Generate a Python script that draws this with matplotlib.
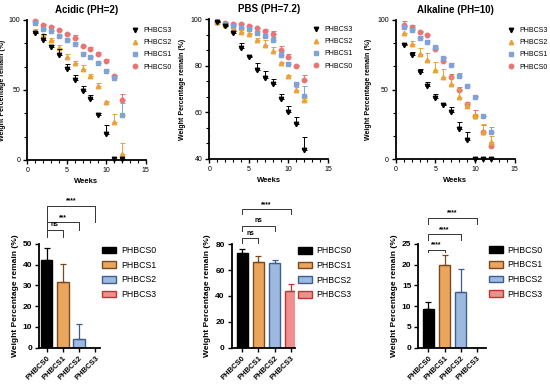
import numpy as np
import matplotlib.pyplot as plt
from matplotlib.ticker import MultipleLocator
from matplotlib.patches import Patch
from matplotlib.lines import Line2D

plt.rcParams["font.family"] = ["Liberation Sans", "DejaVu Sans"]

W, H = 550, 385

# -----------------------------
# Data
# -----------------------------
weeks = np.arange(1, 13)
groups = ["PHBCS0", "PHBCS1", "PHBCS2", "PHBCS3"]

acid_s3 = [90.4, 85.6, 81.0, 75.0, 64.7, 57.0, 49.2, 43.9, 32.4, 18.7, 0.5, 0.5]
acid_s3_err = [0.8, 4.5, 1.2, 4.6, 3.6, 3.6, 4.0, 2.6, 1.0, 6.5, 0.5, 0.5]
acid_s2 = [92.5, 89.0, 85.5, 80.0, 73.6, 69.3, 64.7, 59.7, 53.2, 41.5, 27.1, 4.0]
acid_s2_err = [1.0, 1.0, 1.5, 2.0, 2.0, 1.5, 3.0, 1.5, 2.0, 0.5, 6.0, 8.0]
acid_s1 = [97.6, 93.5, 91.8, 88.7, 85.6, 83.2, 76.0, 73.6, 69.0, 63.5, 58.8, 31.9]
acid_s1_err = [1.0, 1.0, 1.0, 0.8, 1.0, 1.2, 1.0, 1.0, 1.0, 1.5, 1.0, 9.0]
acid_s0 = [99.0, 96.6, 94.7, 93.0, 90.0, 87.0, 81.5, 79.1, 75.5, 70.7, 60.0, 43.2]
acid_s0_err = [0.8, 0.8, 0.8, 0.8, 1.0, 2.0, 0.8, 1.5, 1.5, 1.5, 0.8, 4.3]

pbs_s3 = [98.8, 96.8, 93.9, 87.6, 83.8, 78.3, 74.7, 72.3, 65.7, 60.3, 55.2, 44.0]
pbs_s3_err = [0.3, 0.5, 1.0, 2.0, 0.3, 2.9, 3.0, 1.9, 2.2, 2.2, 2.9, 5.3]
pbs_s2 = [98.5, 97.5, 95.1, 94.6, 93.6, 91.0, 88.9, 86.4, 81.2, 75.7, 69.7, 65.3]
pbs_s2_err = [0.3, 0.3, 0.5, 0.5, 0.5, 1.0, 1.9, 1.7, 0.5, 0.3, 1.2, 1.0]
pbs_s1 = [98.8, 98.0, 96.8, 96.1, 95.7, 93.9, 92.5, 91.0, 84.5, 80.6, 72.2, 67.2]
pbs_s1_err = [0.3, 0.3, 0.5, 0.5, 0.5, 0.8, 1.2, 1.2, 1.5, 1.0, 0.5, 4.0]
pbs_s0 = [98.8, 98.3, 98.0, 97.8, 97.1, 96.0, 95.0, 93.5, 86.7, 83.8, 79.8, 73.7]
pbs_s0_err = [0.3, 0.3, 0.3, 0.3, 0.3, 0.3, 0.5, 1.2, 1.8, 1.2, 0.3, 2.5]

alk_s3 = [82.1, 74.9, 62.4, 52.6, 43.8, 39.0, 34.2, 21.8, 13.9, 0.3, 0.3, 0.3]
alk_s3_err = [0.5, 2.0, 2.4, 3.1, 3.3, 0.5, 3.6, 5.3, 5.5, 0.0, 0.0, 0.0]
alk_s2 = [90.4, 82.5, 75.5, 71.5, 64.4, 59.3, 53.7, 45.0, 38.0, 31.2, 19.4, 12.7]
alk_s2_err = [0.5, 2.5, 4.5, 4.5, 5.5, 5.5, 5.5, 5.5, 2.5, 1.5, 6.0, 4.3]
alk_s1 = [94.7, 92.8, 87.3, 84.0, 80.4, 72.5, 67.7, 59.8, 52.9, 44.7, 30.9, 19.9]
alk_s1_err = [1.0, 1.0, 1.5, 1.5, 1.0, 1.0, 1.5, 2.0, 1.5, 0.5, 0.5, 3.0]
alk_s0 = [96.4, 94.7, 91.6, 89.2, 79.5, 70.5, 59.1, 49.8, 39.7, 31.3, 19.4, 9.8]
alk_s0_err = [2.9, 2.0, 0.5, 0.5, 0.5, 2.0, 2.0, 2.0, 1.5, 4.0, 5.0, 1.5]

acid_bar = [42.3, 31.5, 4.0, 0.0]
acid_bar_err = [5.6, 8.7, 7.4, 0.0]
pbs_bar = [73.0, 66.0, 65.3, 43.6]
pbs_bar_err = [3.0, 5.0, 2.8, 6.0]
alk_bar = [9.3, 20.0, 13.3, 0.0]
alk_bar_err = [1.8, 2.3, 5.5, 0.0]

# -----------------------------
# Styles
# -----------------------------
pt_color = {"PHBCS3": "black", "PHBCS2": "#E9A23B", "PHBCS1": "#7FA3D6", "PHBCS0": "#E87474"}
pt_marker = {"PHBCS3": "v", "PHBCS2": "^", "PHBCS1": "s", "PHBCS0": "o"}
bar_fill = ["black", "#EBA65E", "#9DB9DF", "#EE9090"]
bar_edge = ["black", "#7A4A1E", "#3B5F8E", "#C23434"]


def px_axes(l, r, t, b):
    return fig.add_axes([l / W, 1 - b / H, (r - l) / W, (b - t) / H])


def style_axes(ax):
    for s in ["top", "right"]:
        ax.spines[s].set_visible(False)
    for s in ["left", "bottom"]:
        ax.spines[s].set_linewidth(1.3)
    ax.tick_params(direction="out", width=1.0, length=3, labelsize=5, pad=2)
    ax.tick_params(which="minor", direction="out", width=0.8, length=2)


fig = plt.figure(figsize=(W / 100, H / 100), dpi=100)

# -----------------------------
# Top row: degradation curves
# -----------------------------
top_panels = [
    ("Acidic (PH=2)", (27.3, 145.7, 20, 160), (0, 100), 50,
     [acid_s3, acid_s2, acid_s1, acid_s0], [acid_s3_err, acid_s2_err, acid_s1_err, acid_s0_err], 0.88, -0.18),
    ("PBS (PH=7.2)", (209.3, 328, 19, 159), (40, 100), 20,
     [pbs_s3, pbs_s2, pbs_s1, pbs_s0], [pbs_s3_err, pbs_s2_err, pbs_s1_err, pbs_s0_err], 0.87, -0.195),
    ("Alkaline (PH=10)", (395.7, 514.7, 20, 159.3), (0, 100), 50,
     [alk_s3, alk_s2, alk_s1, alk_s0], [alk_s3_err, alk_s2_err, alk_s1_err, alk_s0_err], 0.94, -0.2),
]
series_names = ["PHBCS3", "PHBCS2", "PHBCS1", "PHBCS0"]

for title, box, ylim, ymaj, vals, errs, leg_x, ylab_x in top_panels:
    ax = px_axes(*box)
    style_axes(ax)
    for name, v, e in zip(series_names[::-1], vals[::-1], errs[::-1]):
        c = pt_color[name]
        ax.errorbar(weeks, v, yerr=[np.zeros(len(e)), e], fmt="none", ecolor=c,
                    elinewidth=0.7, capsize=1.8, capthick=0.7, clip_on=False)
        ax.plot(weeks, v, ls="none", marker=pt_marker[name], color=c, ms=3.2, clip_on=False)
    handles = [Line2D([], [], ls="none", marker=pt_marker[n], color=pt_color[n], ms=3.2)
               for n in series_names]
    ax.set_xlim(0, 15)
    ax.set_ylim(*ylim)
    ax.xaxis.set_major_locator(MultipleLocator(5))
    ax.xaxis.set_minor_locator(MultipleLocator(1))
    ax.yaxis.set_major_locator(MultipleLocator(ymaj))
    ax.yaxis.set_minor_locator(MultipleLocator(ymaj / 3))
    ax.set_title(title, fontsize=7, fontweight="bold", pad=5)
    ax.set_xlabel("Weeks", fontsize=5.5, fontweight="bold", labelpad=3)
    ax.set_ylabel("Weight Percentage remain (%)", fontsize=5, fontweight="bold")
    ax.yaxis.set_label_coords(ylab_x, 0.5)
    ax.legend(handles, series_names, loc="upper left", bbox_to_anchor=(leg_x, 0.95),
              frameon=False, fontsize=5, handlelength=1.0, handletextpad=0.7,
              labelspacing=0.75, borderaxespad=0, borderpad=0)

# -----------------------------
# Bottom row: final weight bars
# -----------------------------
bottom_panels = [
    ((39.3, 100, 244, 347.7), (0, 50), 10, (-0.46, 3.29), acid_bar, acid_bar_err,
     [(0, 1, 56.9, 53.3, "ns"), (0, 2, 60.4, 56.9, "***"), (0, 3, 68.5, 60.4, "****")]),
    ((231.7, 295, 244.3, 347.7), (0, 80), 20, (-0.65, 3.25), pbs_bar, pbs_bar_err,
     [(0, 1, 84.6, 80.7, "ns"), (0, 2, 94.4, 90.3, "ns"), (0, 3, 107.3, 103.2, "****")]),
    ((418.3, 486, 243.7, 347.7), (0, 25), 5, (-0.62, 3.56), alk_bar, alk_bar_err,
     [(0, 1, 23.6, 22.9, "****"), (0, 2, 27.3, 25.9, "****"), (0, 3, 31.2, 29.7, "****")]),
]

x = np.arange(len(groups))
for box, ylim, ymaj, xlim, vals, errs, brackets in bottom_panels:
    ax = px_axes(*box)
    style_axes(ax)
    ax.bar(x, vals, width=0.7, color=bar_fill, edgecolor=bar_edge, linewidth=1.0, zorder=2)
    for xi, v, e, ec in zip(x, vals, errs, bar_edge):
        if e > 0:
            ax.errorbar(xi, v, yerr=[[0], [e]], fmt="none", ecolor=ec, elinewidth=0.9,
                        capsize=2.2, capthick=0.9, zorder=3)
    ax.set_xlim(*xlim)
    ax.set_ylim(*ylim)
    ax.yaxis.set_major_locator(MultipleLocator(ymaj))
    ax.set_xticks(x)
    ax.set_xticklabels(groups, rotation=45, ha="right", rotation_mode="anchor",
                       fontsize=5.5, fontweight="bold")
    for lab in ax.get_yticklabels():
        lab.set_fontsize(6)
        lab.set_fontweight("bold")
    ax.set_ylabel("Weight Percentage remain (%)", fontsize=6, fontweight="bold", labelpad=3)
    span = ylim[1] - ylim[0]
    for i, j, yh, yb, lab in brackets:
        ax.plot([i, i, j, j], [yb, yh, yh, yb], color="#333333", lw=0.7, clip_on=False)
        ax.text((i + j) / 2, yh + span * 0.012, lab, ha="center", va="bottom",
                fontsize=4.8, fontweight="bold", clip_on=False)
    patches = [Patch(facecolor=f, edgecolor=e, linewidth=1.0) for f, e in zip(bar_fill, bar_edge)]
    ax.legend(patches, groups, loc="upper left", bbox_to_anchor=(1.04, 0.98),
              frameon=False, fontsize=6.3, handlelength=1.6, handleheight=0.8,
              handletextpad=0.5, labelspacing=0.65, borderaxespad=0, borderpad=0)

plt.savefig("out.png", dpi=100)
plt.close()
